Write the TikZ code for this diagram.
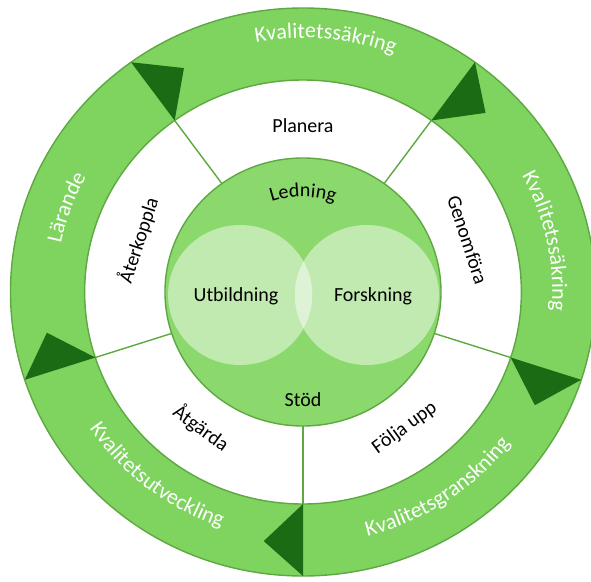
\documentclass[tikz,border=0pt]{standalone}
\usepackage{fontspec}
\setmainfont{Carlito}
\usetikzlibrary{decorations.text}
\definecolor{band}{HTML}{7ED45F}
\definecolor{core}{HTML}{8BD86D}
\definecolor{rim}{HTML}{5EA842}
\definecolor{tip}{HTML}{1B6B14}
\begin{document}
\begin{tikzpicture}[x=1.03pt,y=1pt,
  ring/.style={draw=rim,line width=1.4pt},
  lbl/.style={font=\fontsize{20}{24}\selectfont,inner sep=0pt},
  arctext/.style={decorate,decoration={text along path,text align=center,text color=white,
    text={|\fontsize{22}{26}\selectfont|#1}}}]
\useasboundingbox ({-303/1.03},-289) rectangle ({288/1.03},292);
\fill[band,ring,even odd rule](0,0)circle(284)(0,0)circle(212);
\filldraw[fill=core,ring](0,0)circle(134);
\fill[white,opacity=0.47](-61,-3)circle(70);
\fill[white,opacity=0.47](62,-3)circle(70);
\foreach \a/\n in {126/1,54/2,-18/3,-90/4,-162/5}{
  \coordinate(in\n)at(\a:134);
  \coordinate(out\n)at(\a:212);
  \coordinate(rim\n)at(\a:284);
  \coordinate(tip\n)at({\a-8.7}:252);
  \draw[rim,line width=1.4pt](in\n)--(out\n);
  \fill[tip](out\n)--(rim\n)--(tip\n)--cycle;
}
\node[lbl](utb)at(-65,-4){Utbildning};
\node[lbl](fors)at(68,-4){Forskning};
\node[lbl](stod)at(0,-108){Stöd};
\path[decorate,decoration={text along path,text align=center,
  text={|\fontsize{20}{24}\selectfont|Ledning}}](130:95)arc[start angle=130,end angle=50,radius=95];
\node[lbl](plan)at(90:166){Planera};
\node[lbl,rotate=-72](genom)at(18:168){Genomföra};
\node[lbl,rotate=36](folj)at(-54:168){Följa upp};
\node[lbl,rotate=-36](atg)at(-126:168){Åtgärda};
\node[lbl,rotate=72](ater)at(162:168){Återkoppla};
\path[arctext=Kvalitetssäkring](125:254)arc[start angle=125,end angle=45,radius=254];
\path[arctext=Kvalitetssäkring](52:242)arc[start angle=52,end angle=-28,radius=242];
\path[arctext=Lärande](200:240)arc[start angle=200,end angle=120,radius=240];
\path[arctext=Kvalitetsgranskning](-100:252)arc[start angle=-100,end angle=-12,radius=252];
\path[arctext=Kvalitetsutveckling](-172:248)arc[start angle=-172,end angle=-84,radius=248];
\end{tikzpicture}
\end{document}
